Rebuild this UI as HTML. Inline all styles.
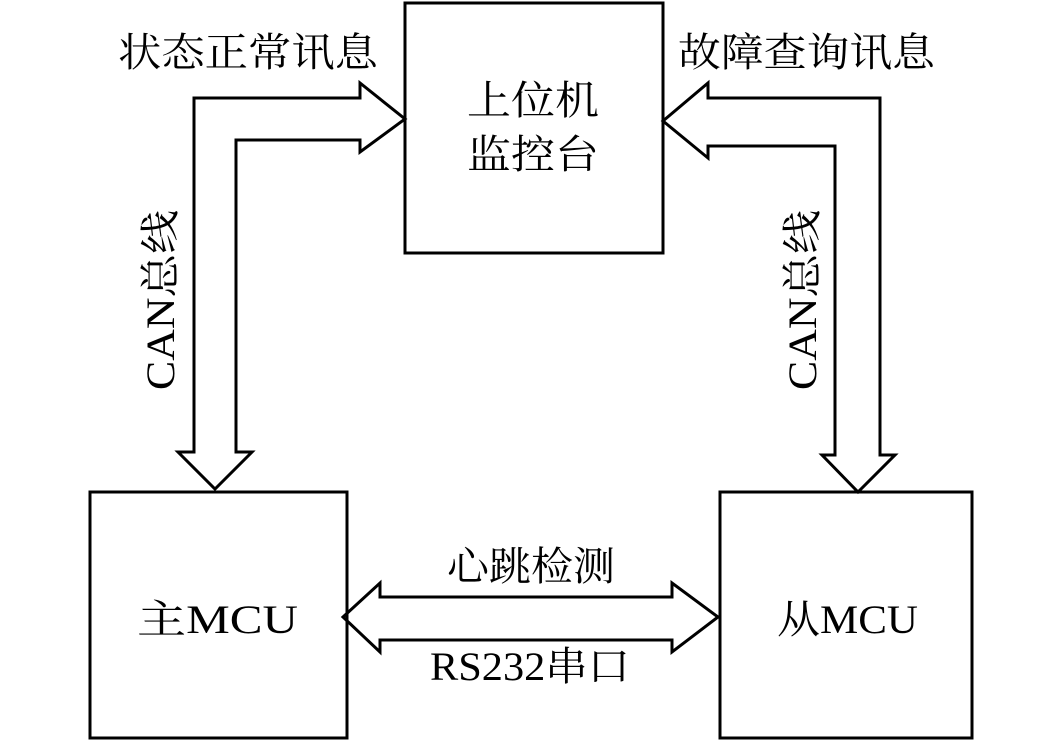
<!DOCTYPE html>
<html><head><meta charset="utf-8"><style>
body{margin:0;background:#fff;}
svg text{font-family:"Liberation Serif","Noto Serif CJK SC",serif;fill:#000;}
</style></head><body>
<svg width="1063" height="748" xmlns="http://www.w3.org/2000/svg">
<g fill="none" stroke="#000" stroke-width="3">
<rect x="405" y="3" width="258" height="250"/>
<rect x="90" y="492" width="257" height="246"/>
<rect x="720" y="492" width="252" height="246"/>
<polygon points="194,452 194,98 360,98 360,83 405,119 360,152 360,140 236,140 236,452 252,452 215,489 178,452" stroke-linejoin="miter"/>
<polygon points="880,455 880,98 708,98 708,83 663,121 708,158 708,146 835,146 835,455 822,455 858,492 895,455"/>
<polygon points="343,617 380,583 380,597 672,597 672,583 718,617 672,652 672,640 380,640 380,652"/>
</g>
<g font-size="40">
<text x="118" y="66" textLength="260" lengthAdjust="spacingAndGlyphs">状态正常讯息</text>
<text x="678" y="66" textLength="257" lengthAdjust="spacingAndGlyphs">故障查询讯息</text>
<text x="467" y="114" textLength="132" lengthAdjust="spacingAndGlyphs">上位机</text>
<text x="467" y="168" textLength="132" lengthAdjust="spacingAndGlyphs">监控台</text>
<text x="137" y="633" textLength="161" lengthAdjust="spacingAndGlyphs">主MCU</text>
<text x="777" y="633" textLength="141" lengthAdjust="spacingAndGlyphs">从MCU</text>
<text x="447" y="580" textLength="168" lengthAdjust="spacingAndGlyphs">心跳检测</text>
<text x="430" y="680" textLength="200" lengthAdjust="spacingAndGlyphs">RS232串口</text>
<text transform="translate(174,390) rotate(-90)" textLength="180" lengthAdjust="spacingAndGlyphs">CAN总线</text>
<text transform="translate(816,390) rotate(-90)" textLength="180" lengthAdjust="spacingAndGlyphs">CAN总线</text>
</g>
</svg>
</body></html>
